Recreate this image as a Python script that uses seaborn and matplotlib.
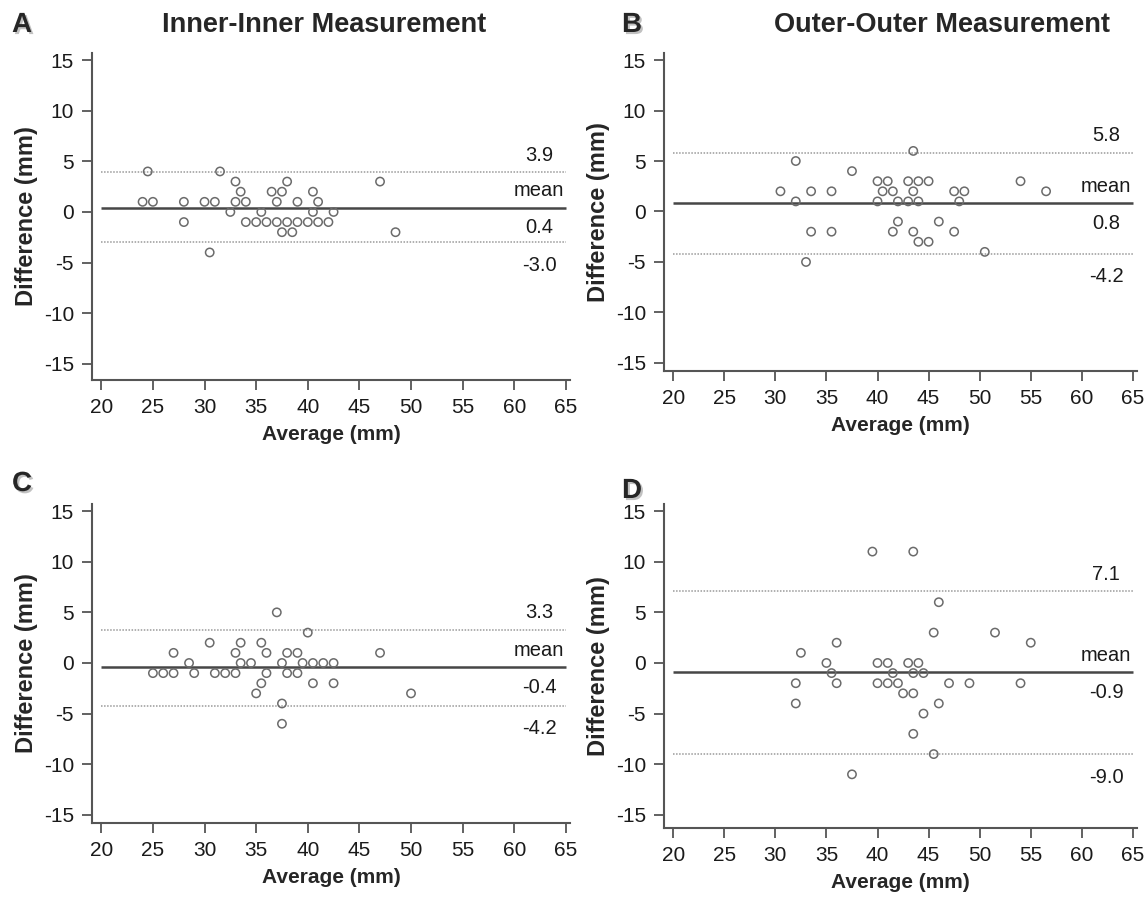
import matplotlib
matplotlib.use("Agg")
import matplotlib.pyplot as plt
import matplotlib.patheffects as pe
import pandas as pd
import seaborn as sns

# Bland-Altman data: average (mm) and difference (mm)
a_avg = [24.5, 31.5,
         33, 38, 47,
         33.5, 36.5, 37.5, 40.5,
         24, 25, 28, 30, 31, 33, 34, 37, 39, 41,
         32.5, 35.5, 40.5, 42.5,
         28, 34, 35, 36, 37, 38, 39, 40, 41, 42,
         37.5, 38.5, 48.5,
         30.5]
a_diff = [4, 4,
          3, 3, 3,
          2, 2, 2, 2,
          1, 1, 1, 1, 1, 1, 1, 1, 1, 1,
          0, 0, 0, 0,
          -1, -1, -1, -1, -1, -1, -1, -1, -1, -1,
          -2, -2, -2,
          -4]
a_stats = [3.9, 0.4, -3.0]

b_avg = [32, 43.5,
         37.5,
         40, 41, 43, 44, 45, 54,
         30.5, 33.5, 35.5, 40.5, 41.5, 43.5, 47.5, 48.5, 56.5,
         32, 40, 42, 43, 44, 48,
         42, 46,
         33.5, 35.5, 41.5, 43.5, 47.5,
         44, 45,
         50.5,
         33]
b_diff = [5, 6,
          4,
          3, 3, 3, 3, 3, 3,
          2, 2, 2, 2, 2, 2, 2, 2, 2,
          1, 1, 1, 1, 1, 1,
          -1, -1,
          -2, -2, -2, -2, -2,
          -3, -3,
          -4,
          -5]
b_stats = [5.8, 0.8, -4.2]

c_avg = [37,
         40,
         30.5, 33.5, 35.5,
         27, 33, 36, 38, 39, 47,
         28.5, 33.5, 34.5, 37.5, 39.5, 40.5, 41.5, 42.5,
         25, 26, 27, 29, 31, 32, 33, 36, 38, 39,
         35.5, 40.5, 42.5,
         35, 50,
         37.5,
         37.5]
c_diff = [5,
          3,
          2, 2, 2,
          1, 1, 1, 1, 1, 1,
          0, 0, 0, 0, 0, 0, 0, 0,
          -1, -1, -1, -1, -1, -1, -1, -1, -1, -1,
          -2, -2, -2,
          -3, -3,
          -4,
          -6]
c_stats = [3.3, -0.4, -4.2]

d_avg = [39.5, 43.5,
         46,
         45.5, 51.5,
         55, 36,
         32.5,
         35, 40, 41, 43, 44,
         35.5, 41.5, 43.5, 44.5,
         32, 36, 40, 41, 42, 47, 49, 54,
         42.5, 43.5,
         32, 46,
         44.5,
         43.5,
         45.5,
         37.5]
d_diff = [11, 11,
          6,
          3, 3,
          2, 2,
          1,
          0, 0, 0, 0, 0,
          -1, -1, -1, -1,
          -2, -2, -2, -2, -2, -2, -2, -2,
          -3, -3,
          -4, -4,
          -5,
          -7,
          -9,
          -11]
d_stats = [7.1, -0.9, -9.0]

panel_letters = ["A", "B", "C", "D"]
titles = ["Inner-Inner Measurement", "Outer-Outer Measurement"]

sns.set_theme(style="ticks")
plt.rcParams["font.family"] = ["Liberation Sans", "DejaVu Sans"]
plt.rcParams["axes.unicode_minus"] = False

W, H = 1148, 897
fig = plt.figure(figsize=(W / 100, H / 100), dpi=100)

# axes boxes in pixels: left, right, top, bottom, and lower y limit
boxes = [(92, 570, 53, 380, -16.6), (664, 1137, 53, 371, -15.8),
         (92, 570, 504, 823, -15.8), (664, 1137, 504, 828, -16.3)]
panels = [(a_avg, a_diff, a_stats), (b_avg, b_diff, b_stats),
          (c_avg, c_diff, c_stats), (d_avg, d_diff, d_stats)]

spine_col = "#555555"
for (l, r, t, b, ylo), (avg, diff, stats) in zip(boxes, panels):
    ax = fig.add_axes([l / W, 1 - b / H, (r - l) / W, (b - t) / H])
    df = pd.DataFrame({"avg": avg, "diff": diff})
    upper, mean, lower = stats
    ax.hlines([upper, lower], 20, 65, colors="#9a9a9a", linestyles=(0, (1, 1)), linewidth=1.1)
    ax.hlines(mean, 20, 65, colors="#474747", linewidth=1.8)
    sns.scatterplot(data=df, x="avg", y="diff", ax=ax, marker="o", s=36,
                    facecolor="none", edgecolor="#6b6b6b", linewidth=1.1, zorder=3)
    ax.set_xlim(19.1, 65.4)
    ax.set_ylim(ylo, 15.7)
    ax.set_xticks(range(20, 66, 5))
    ax.set_yticks(range(-15, 16, 5))
    ax.tick_params(direction="out", length=7, width=1.3, color=spine_col,
                   labelsize=15, labelcolor="#1a1a1a", pad=6)
    for s in ["left", "bottom"]:
        ax.spines[s].set_color(spine_col)
        ax.spines[s].set_linewidth(1.5)
    sns.despine(ax=ax)
    ax.set_xlabel("Average (mm)", fontsize=15, fontweight="bold", labelpad=6)
    ax.set_ylabel("Difference (mm)", fontsize=17, fontweight="bold", labelpad=4)

    kw = dict(textcoords="offset pixels", ha="center", va="center", fontsize=14.5, color="#1a1a1a")
    ax.annotate(f"{upper:.1f}", (62.4, upper), xytext=(0, 17), **kw)
    ax.annotate("mean", (62.4, mean), xytext=(0, 17), **kw)
    ax.annotate(f"{mean:.1f}", (62.4, mean), xytext=(0, -20), **kw)
    ax.annotate(f"{lower:.1f}", (62.4, lower), xytext=(0, -23), **kw)

fig.text(324 / W, 1 - 25 / H, titles[0], ha="center", va="center", fontsize=19.5, fontweight="bold")
fig.text(942 / W, 1 - 25 / H, titles[1], ha="center", va="center", fontsize=19.5, fontweight="bold")

shadow = [pe.withSimplePatchShadow(offset=(1.5, -1.5), shadow_rgbFace="#999999", alpha=0.6)]
for letter, (x, y) in zip(panel_letters, [(22, 25), (632, 25), (22, 484), (632, 491)]):
    fig.text(x / W, 1 - y / H, letter, ha="center", va="center", fontsize=20,
             fontweight="bold", path_effects=shadow)

fig.savefig("out.png", dpi=100)
